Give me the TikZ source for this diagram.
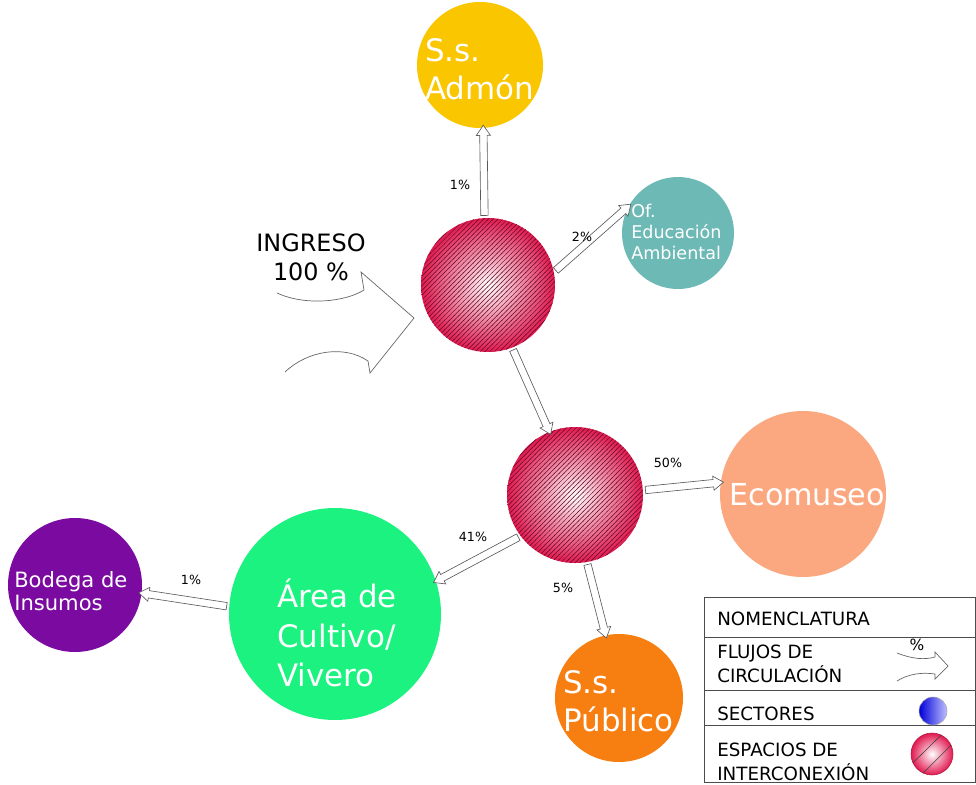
\documentclass[tikz,border=0pt]{standalone}
\usepackage{fontspec}
\setmainfont{DejaVu Sans}
\usetikzlibrary{shapes.arrows,patterns,calc}

\definecolor{hubred}{RGB}{225,25,80}
\definecolor{admon}{RGB}{250,198,0}
\definecolor{educacion}{RGB}{108,185,182}
\definecolor{ecomuseo}{RGB}{251,168,128}
\definecolor{cultivo}{RGB}{28,242,128}
\definecolor{bodega}{RGB}{122,10,160}
\definecolor{publico}{RGB}{247,127,18}

% rayado fino de los espacios de interconexion
\pgfdeclarepatternformonly{rayado}{\pgfqpoint{-1pt}{-1pt}}{\pgfqpoint{4.6pt}{4.6pt}}{\pgfqpoint{3.4pt}{3.4pt}}{%
  \pgfsetlinewidth{0.35pt}
  \pgfpathmoveto{\pgfqpoint{-0.2pt}{-0.2pt}}
  \pgfpathlineto{\pgfqpoint{3.6pt}{3.6pt}}
  \pgfusepath{stroke}}

\tikzset{
  sector/.style={circle, fill=#1, draw=none, inner sep=0pt, outer sep=0pt},
  enlace/.style={circle, inner sep=0pt, outer sep=0pt, minimum size=#1,
    shading=radial, inner color=white, outer color=hubred,
    postaction={pattern=rayado, pattern color=hubred!45!black}},
  flecha/.style={single arrow, draw=black!65, fill=white, line width=0.45pt,
    inner sep=2.4pt, outer sep=0pt, single arrow head extend=2.4pt,
    single arrow tip angle=70},
  rotulo/.style={text=white, align=left, inner sep=0pt, anchor=west},
  pct/.style={font=\fontsize{9}{11}\selectfont, inner sep=0pt},
  leyenda/.style={font=\fontsize{13}{17.5}\selectfont, align=left, inner sep=0pt},
  entrada/.style={draw=black!60, line width=0.5pt},
  tabla/.style={draw=black!70, line width=0.6pt}
}

% flecha hueca entre dos puntos
\newcommand{\flujo}[3]{%
  \path let \p1=(#2), \p2=(#3), \n1={veclen(\x2-\x1,\y2-\y1)},
    \n2={atan2(\y2-\y1,\x2-\x1)} in
    node[flecha, minimum height=\n1, rotate=\n2] (#1) at ($(\p1)!0.5!(\p2)$) {};}

\begin{document}
\begin{tikzpicture}[x=0.25mm, y=-0.25mm]
\useasboundingbox (0,0) rectangle (976,784);

% sectores
\node[sector=admon, minimum size=31.5mm] (admon) at (480,65) {};
\node[rotulo, font=\fontsize{22}{27}\selectfont] (t-admon) at (425,69) {S.s.\\Admón};
\node[sector=educacion, minimum size=28mm] (educ) at (678,233) {};
\node[rotulo, font=\fontsize{12.5}{15}\selectfont] (t-educ) at (631,232) {Of.\\Educación\\Ambiental};
\node[sector=ecomuseo, minimum size=41.5mm] (ecomuseo) at (803,494) {};
\node[rotulo, anchor=base west, font=\fontsize{21.5}{26}\selectfont] (t-ecomuseo) at (729,505) {Ecomuseo};
\node[sector=cultivo, minimum size=53mm] (cultivo) at (335,614) {};
\node[rotulo, font=\fontsize{22}{28}\selectfont] (t-cultivo) at (277,633) {Área de\\Cultivo/\\Vivero};
\node[sector=bodega, minimum size=33.5mm] (bodega) at (75,585) {};
\node[rotulo, font=\fontsize{15}{16.5}\selectfont] (t-bodega) at (14,591) {Bodega de\\Insumos};
\node[sector=publico, minimum size=32mm] (publico) at (619,698) {};
\node[rotulo, font=\fontsize{22}{27}\selectfont] (t-publico) at (563,701) {S.s.\\Público};

% espacios de interconexion
\node[enlace=33.5mm] (hub1) at (488,285) {};
\node[enlace=34mm] (hub2) at (575,495) {};

% flujos
\flujo{f-admon}{hub1.93}{admon.-87}
\flujo{f-educ}{hub1.11}{educ.151}
\flujo{f-hub}{hub1.-69}{hub2.112}
\flujo{f-ecomuseo}{hub2.4}{ecomuseo.172}
\flujo{f-cultivo}{hub2.217}{cultivo.18}
\flujo{f-publico}{hub2.-80}{publico.102}
\flujo{f-bodega}{cultivo.176}{bodega.-7}

\node[pct] (p-admon) at (460,185) {1\%};
\node[pct] (p-educ) at (582,237) {2\%};
\node[pct] (p-ecomuseo) at (668,463) {50\%};
\node[pct] (p-cultivo) at (473,537) {41\%};
\node[pct] (p-publico) at (563,588) {5\%};
\node[pct] (p-bodega) at (191,580) {1\%};

% ingreso
\node[font=\fontsize{17}{20.5}\selectfont, align=center, inner sep=0pt] (ingreso) at (311,257) {INGRESO\\100 \%};
\draw[entrada] (277,293) .. controls (305,306) and (345,302) .. (364,290)
  -- (361,272) -- (414,318) -- (370,373) -- (368,361)
  .. controls (345,345) and (308,350) .. (285,372);

% nomenclatura
\draw[tabla] (704,597) rectangle (975.5,782);
\draw[tabla] (704,637) -- (975.5,637);
\draw[tabla] (704,690) -- (975.5,690);
\draw[tabla] (704,725) -- (975.5,725);
\node[leyenda, anchor=base west] (l-nom) at (717,625) {NOMENCLATURA};
\node[leyenda, anchor=west] (l-flujo) at (717,664) {FLUJOS DE\\CIRCULACIÓN};
\node[leyenda, anchor=base west] (l-sector) at (717,720) {SECTORES};
\node[leyenda, anchor=west] (l-esp) at (717,762) {ESPACIOS DE\\INTERCONEXIÓN};
\node[pct, font=\fontsize{11}{12}\selectfont] (l-pct) at (917,645) {\%};
\draw[entrada] (897,653) .. controls (912,659) and (925,660) .. (935,657)
  -- (935,652) -- (948,666) -- (935,679) -- (935,674)
  .. controls (922,672) and (908,674) .. (897,681);
\node[circle, inner sep=0pt, minimum size=7mm, left color=blue!85!black,
  right color=white!75!blue, draw=black!35] (s-sector) at (933,711) {};
\node[circle, inner sep=0pt, minimum size=10.5mm, shading=radial, inner color=white,
  outer color=hubred, draw=hubred!80!black] (s-esp) at (932,754) {};
\draw[black!75] (s-esp.-115.5) -- (s-esp.25.5);
\draw[black!75] (s-esp.205.5) -- (s-esp.64.5);
\end{tikzpicture}
\end{document}
